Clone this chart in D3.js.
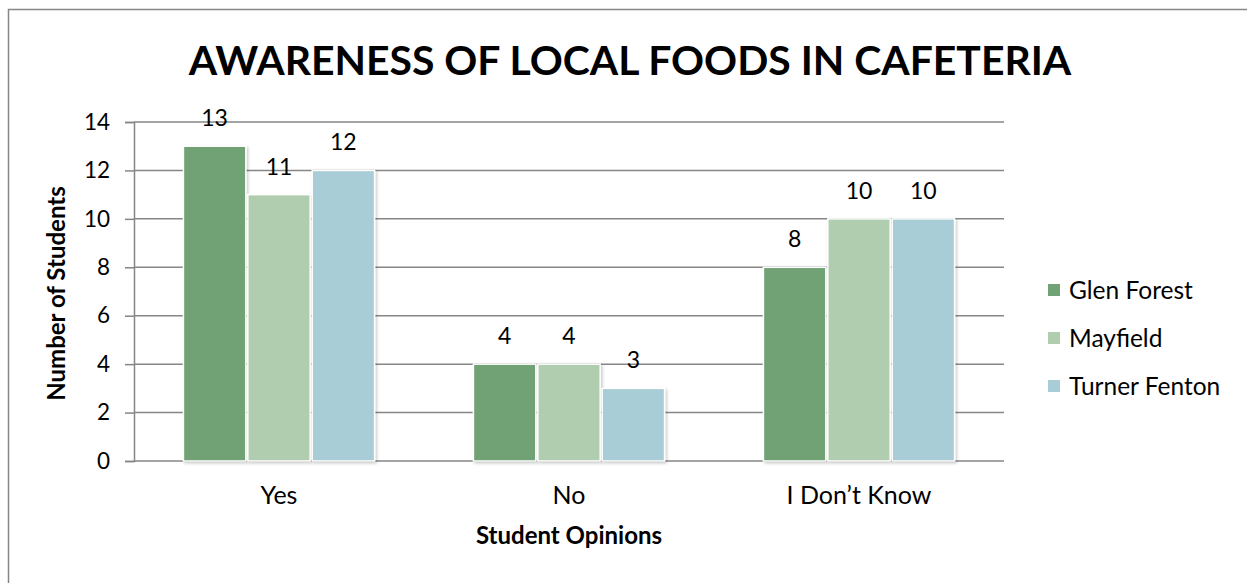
<!DOCTYPE html>
<html>
<head>
<meta charset="utf-8">
<script src="https://cdn.jsdelivr.net/npm/d3@7"></script>
<style>
  html, body { margin: 0; padding: 0; background: #fff; }
  svg { display: block; font-family: Lato, "Open Sans", sans-serif; }
</style>
</head>
<body>
<svg id="chart" width="1247" height="583"></svg>
<script>
// Survey answers, grouped by school
const categories = ["Yes", "No", "I Don\u2019t Know"];
const schools = ["Glen Forest", "Mayfield", "Turner Fenton"];
const glenForest = [13, 4, 8];
const mayfield = [11, 4, 10];
const turnerFenton = [12, 3, 10];
const yTicks = [0, 2, 4, 6, 8, 10, 12, 14];
const colors = ["#70a275", "#b0cdaf", "#a9cdd6"];

const seriesValues = [glenForest, mayfield, turnerFenton];
const rows = categories.map((c, i) => ({
  category: c,
  values: schools.map((s, j) => ({ school: s, value: seriesValues[j][i], idx: j }))
}));

const svg = d3.select("#chart");
const W = 1247, H = 583;
const plot = { left: 134, right: 1004, top: 122, bottom: 461 };

// outer chart frame
svg.append("rect")
  .attr("x", 8.5).attr("y", 9.5)
  .attr("width", W + 20).attr("height", H + 20)
  .attr("fill", "#fff").attr("stroke", "#868686").attr("stroke-width", 1.5);

// soft drop shadow for the bars
const defs = svg.append("defs");
const f = defs.append("filter").attr("id", "barShadow")
  .attr("x", "-10%").attr("y", "-10%").attr("width", "130%").attr("height", "130%");
f.append("feDropShadow").attr("dx", 1.5).attr("dy", 1.5).attr("stdDeviation", 1.5)
  .attr("flood-color", "#000").attr("flood-opacity", 0.22);

const x0 = d3.scaleBand().domain(categories).range([plot.left, plot.right]).paddingInner(0.334).paddingOuter(0.167);
const x1 = d3.scaleBand().domain(schools).range([0, x0.bandwidth()]).padding(0);
const y = d3.scaleLinear().domain([0, 14]).range([plot.bottom, plot.top]);

// horizontal gridlines + y axis
const yAxis = d3.axisLeft(y).tickValues(yTicks).tickSize(9).tickPadding(15).tickFormat(d3.format("d"));
const gy = svg.append("g").attr("transform", `translate(${plot.left},0)`).call(yAxis);
gy.select(".domain").attr("stroke", "#868686").attr("stroke-width", 1.5);
gy.selectAll(".tick line").attr("stroke", "#868686").attr("stroke-width", 1.5);
gy.selectAll(".tick text").attr("font-size", 22.5).attr("fill", "#000").attr("font-family", "Lato, sans-serif");

svg.append("g").selectAll("line").data(yTicks).join("line")
  .attr("x1", plot.left).attr("x2", plot.right)
  .attr("y1", d => y(d)).attr("y2", d => y(d))
  .attr("stroke", "#868686").attr("stroke-width", 1.5);

// bars
const groups = svg.append("g").selectAll("g").data(rows).join("g")
  .attr("transform", d => `translate(${x0(d.category)},0)`);

groups.selectAll("rect").data(d => d.values).join("rect")
  .attr("x", d => x1(d.school) + 1)
  .attr("y", d => y(d.value))
  .attr("width", x1.bandwidth() - 2)
  .attr("height", d => y(0) - y(d.value))
  .attr("fill", d => colors[d.idx])
  .attr("stroke", "#fff").attr("stroke-width", 1.5)
  .attr("filter", "url(#barShadow)");

// value labels
groups.selectAll("text").data(d => d.values).join("text")
  .attr("x", d => x1(d.school) + x1.bandwidth() / 2)
  .attr("y", d => y(d.value) - 20)
  .attr("text-anchor", "middle")
  .attr("font-size", 23)
  .attr("fill", "#000")
  .text(d => d.value);

// category labels
svg.append("g").selectAll("text").data(categories).join("text")
  .attr("x", d => x0(d) + x0.bandwidth() / 2)
  .attr("y", 504)
  .attr("text-anchor", "middle")
  .attr("font-size", 25)
  .attr("fill", "#000")
  .text(d => d);

// axis titles
svg.append("text")
  .attr("x", (plot.left + plot.right) / 2).attr("y", 544)
  .attr("text-anchor", "middle").attr("font-size", 24).attr("font-weight", 700)
  .text("Student Opinions");

svg.append("text")
  .attr("transform", `translate(65,${(plot.top + plot.bottom) / 2 + 2}) rotate(-90)`)
  .attr("text-anchor", "middle").attr("font-size", 24).attr("font-weight", 700)
  .text("Number of Students");

// chart title, sized to span the plot width
const title = svg.append("text")
  .attr("x", 630).attr("y", 75)
  .attr("text-anchor", "middle").attr("font-size", 42).attr("font-weight", 700)
  .text("AWARENESS OF LOCAL FOODS IN CAFETERIA");
const tw = title.node().getComputedTextLength();
title.attr("font-size", 42 * 883 / tw);

// legend
const legend = svg.append("g").selectAll("g").data(schools).join("g")
  .attr("transform", (d, i) => `translate(1048,${290 + i * 48})`);
legend.append("rect")
  .attr("x", 0).attr("y", -6).attr("width", 12).attr("height", 12)
  .attr("fill", (d, i) => colors[i]);
legend.append("text")
  .attr("x", 21).attr("y", 0).attr("dy", "0.36em")
  .attr("font-size", 24.5).attr("fill", "#000")
  .text(d => d);
</script>
</body>
</html>
